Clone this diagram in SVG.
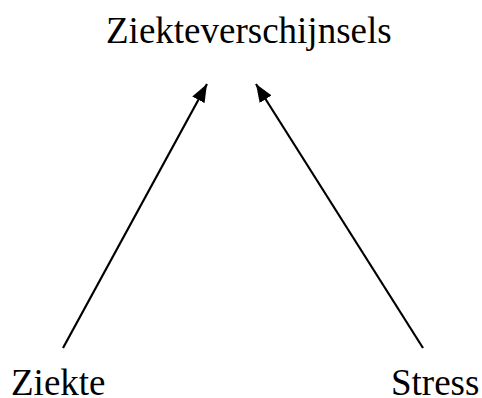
<svg xmlns="http://www.w3.org/2000/svg" width="482" height="398" viewBox="0 0 482 398">
  <style>
    .label { font-family: "Liberation Serif", "Times New Roman", serif; font-size: 37px; fill: #000; }
    .edge { stroke: #000; stroke-width: 2.2; fill: none; marker-end: url(#arrow); }
  </style>
  <defs>
    <marker id="arrow" viewBox="0 0 18 14" refX="18" refY="7" markerWidth="18" markerHeight="14" markerUnits="userSpaceOnUse" orient="auto">
      <path d="M0,0 L18,7 L0,14 Z" fill="#000"/>
    </marker>
  </defs>
  <rect width="482" height="398" fill="#fff"/>
  <g id="connectors">
    <line class="edge" x1="63" y1="348" x2="207" y2="84"/>
    <line class="edge" x1="423" y1="348" x2="256" y2="84"/>
  </g>
  <g id="node-ziekteverschijnsels">
    <text class="label" x="106" y="43">Ziekteverschijnsels</text>
  </g>
  <g id="node-ziekte">
    <text class="label" x="11" y="395">Ziekte</text>
  </g>
  <g id="node-stress">
    <text class="label" x="391" y="395">Stress</text>
  </g>
</svg>
